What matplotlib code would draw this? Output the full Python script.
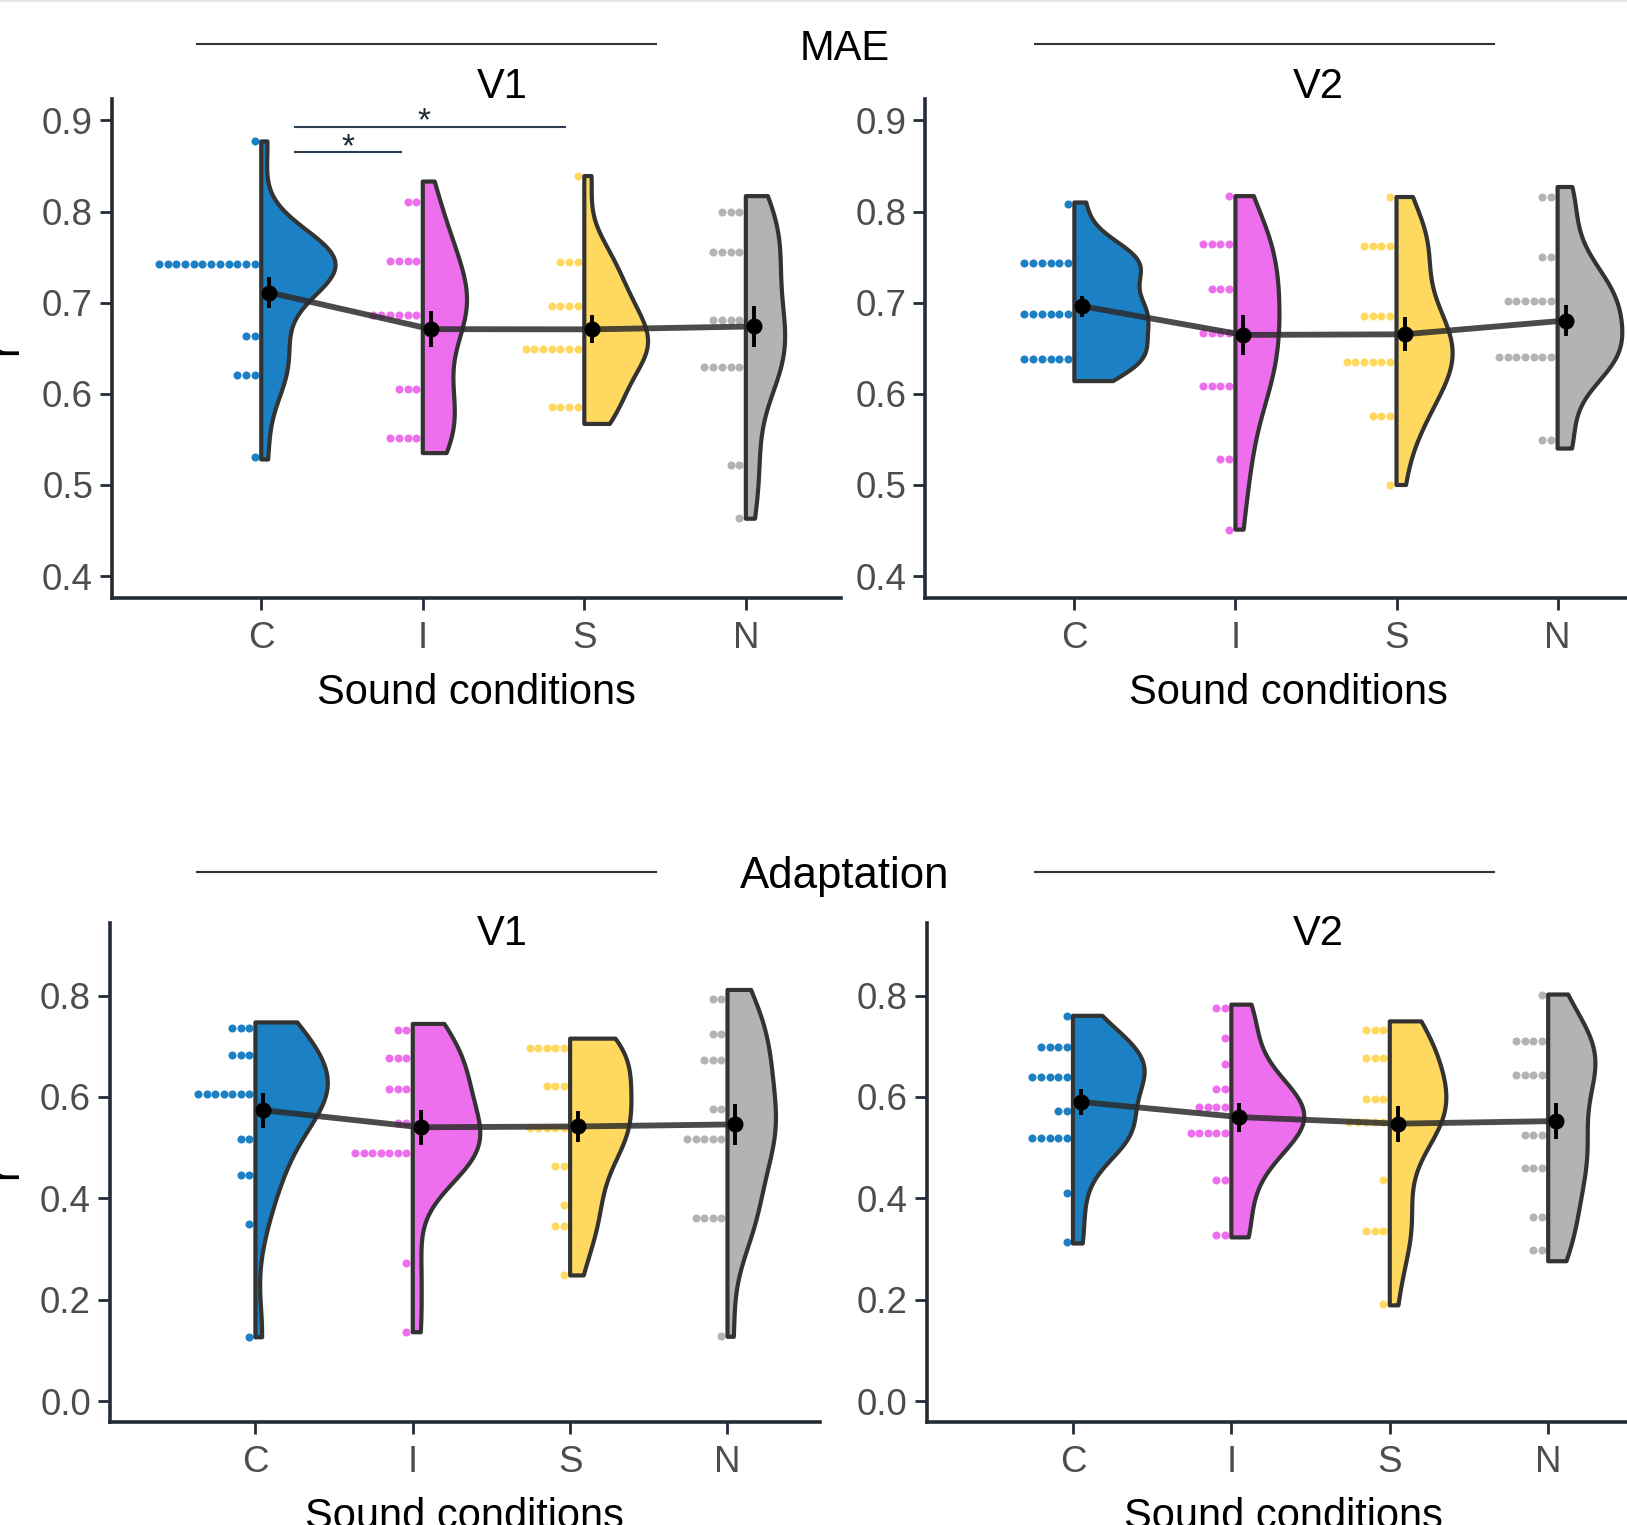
import numpy as np
import matplotlib
matplotlib.use("Agg")
import matplotlib.pyplot as plt
from matplotlib.patches import Polygon
from matplotlib.lines import Line2D

plt.rcParams['font.family'] = ['Liberation Sans', 'DejaVu Sans']

W, H = 1627, 1525

conditions = ['C', 'I', 'S', 'N']
colors = ['#1B80C4', '#EE6FEE', '#FFD95F', '#B3B3B3']

# ---- data: binned dot values and counts per condition (n = 19 each) ----
MAE_V1_vals = {'C': [0.877, 0.743, 0.663, 0.621, 0.531],
               'I': [0.810, 0.746, 0.687, 0.605, 0.552],
               'S': [0.839, 0.745, 0.696, 0.649, 0.586],
               'N': [0.800, 0.756, 0.681, 0.630, 0.522, 0.464]}
MAE_V1_counts = {'C': [1, 12, 2, 3, 1],
                 'I': [2, 4, 6, 3, 4],
                 'S': [1, 3, 4, 7, 4],
                 'N': [3, 4, 4, 5, 2, 1]}
MAE_V1_range = {'C': (0.528, 0.877), 'I': (0.535, 0.833),
                'S': (0.567, 0.839), 'N': (0.463, 0.817)}

MAE_V2_vals = {'C': [0.808, 0.744, 0.688, 0.638],
               'I': [0.817, 0.764, 0.715, 0.667, 0.609, 0.528, 0.451],
               'S': [0.816, 0.762, 0.685, 0.635, 0.576, 0.500],
               'N': [0.816, 0.750, 0.702, 0.641, 0.549]}
MAE_V2_counts = {'C': [1, 6, 6, 6],
                 'I': [1, 4, 3, 4, 4, 2, 1],
                 'S': [1, 4, 4, 6, 3, 1],
                 'N': [2, 2, 6, 7, 2]}
MAE_V2_range = {'C': (0.614, 0.810), 'I': (0.451, 0.817),
                'S': (0.500, 0.816), 'N': (0.540, 0.827)}

ADA_V1_vals = {'C': [0.736, 0.683, 0.606, 0.518, 0.446, 0.349, 0.127],
               'I': [0.732, 0.676, 0.615, 0.548, 0.489, 0.272, 0.136],
               'S': [0.696, 0.622, 0.539, 0.463, 0.387, 0.346, 0.248],
               'N': [0.794, 0.725, 0.672, 0.576, 0.518, 0.362, 0.128]}
ADA_V1_counts = {'C': [3, 3, 7, 2, 2, 1, 1],
                 'I': [2, 3, 3, 2, 7, 1, 1],
                 'S': [5, 3, 5, 2, 1, 2, 1],
                 'N': [2, 2, 3, 2, 5, 4, 1]}
ADA_V1_range = {'C': (0.126, 0.747), 'I': (0.136, 0.744),
                'S': (0.248, 0.715), 'N': (0.127, 0.811)}

ADA_V2_vals = {'C': [0.760, 0.698, 0.640, 0.572, 0.519, 0.410, 0.313],
               'I': [0.775, 0.716, 0.664, 0.615, 0.580, 0.528, 0.436, 0.327],
               'S': [0.732, 0.676, 0.595, 0.551, 0.436, 0.336, 0.191],
               'N': [0.802, 0.710, 0.644, 0.524, 0.460, 0.364, 0.299]}
ADA_V2_counts = {'C': [1, 4, 5, 2, 5, 1, 1],
                 'I': [2, 1, 1, 2, 4, 5, 2, 2],
                 'S': [3, 3, 3, 5, 1, 3, 1],
                 'N': [1, 4, 4, 3, 3, 2, 2]}
ADA_V2_range = {'C': (0.311, 0.760), 'I': (0.323, 0.782),
                'S': (0.189, 0.749), 'N': (0.276, 0.802)}

MAE_yticks = [0.4, 0.5, 0.6, 0.7, 0.8, 0.9]
ADA_yticks = [0.0, 0.2, 0.4, 0.6, 0.8]

# ---- layout ----
spine_col = '#222b36'
outline_col = '#333333'


def px_rect(l, t, r, b):
    return [l / W, 1 - b / H, (r - l) / W, (b - t) / H]


def kde(raw, grid):
    n = len(raw)
    sd = np.std(raw, ddof=1)
    bw = 0.9 * sd * n ** -0.2
    z = (grid[:, None] - raw[None, :]) / bw
    return np.exp(-0.5 * z ** 2).sum(1) / (n * bw * np.sqrt(2 * np.pi))


fig = plt.figure(figsize=(W / 100, H / 100), dpi=100)

panels = [
    (px_rect(112, 98.6, 840.5, 598), (0.376, 0.924), MAE_yticks, MAE_V1_vals, MAE_V1_counts, MAE_V1_range, True),
    (px_rect(925.5, 98.6, 1652, 598), (0.376, 0.924), MAE_yticks, MAE_V2_vals, MAE_V2_counts, MAE_V2_range, False),
    (px_rect(110, 922.5, 819.7, 1422), (-0.041, 0.944), ADA_yticks, ADA_V1_vals, ADA_V1_counts, ADA_V1_range, False),
    (px_rect(926.6, 922.5, 1641, 1422), (-0.041, 0.944), ADA_yticks, ADA_V2_vals, ADA_V2_counts, ADA_V2_range, False),
]

max_w = 0.46
dot_off = 0.04
dot_step = 0.054
nudge = 0.05

for rect, ylim, yticks, vals, counts, ranges, sig in panels:
    ax = fig.add_axes(rect)
    ax.set_xlim(0.076, 4.586)
    ax.set_ylim(*ylim)
    dens = {}
    grids = {}
    means, ses = [], []
    for i, c in enumerate(conditions):
        v = np.array(vals[c])
        k = np.array(counts[c])
        raw = np.repeat(v, k)
        lo, hi = ranges[c]
        g = np.linspace(lo, hi, 300)
        grids[c] = g
        dens[c] = kde(raw, g)
        means.append(raw.mean())
        ses.append(raw.std(ddof=1) / np.sqrt(len(raw)))
        for val, cnt in zip(v, k):
            xs = (i + 1) - dot_off - np.arange(cnt) * dot_step
            ax.plot(xs, [val] * cnt, 'o', ms=5.8, color=colors[i], mec='none', zorder=2)
    dmax = max(d.max() for d in dens.values())
    for i, c in enumerate(conditions):
        x0 = i + 1
        g = grids[c]
        w = dens[c] / dmax * max_w
        xs = np.concatenate([[x0], x0 + w, [x0]])
        ys = np.concatenate([[g[0]], g, [g[-1]]])
        poly = Polygon(np.column_stack([xs, ys]), closed=True, fc=colors[i], ec=outline_col,
                       lw=3.0, joinstyle='round', zorder=3)
        ax.add_patch(poly)
    mx = np.arange(1, 5) + nudge
    ax.plot(mx, means, color='#2b2b2b', alpha=0.85, lw=4.2, zorder=4, solid_capstyle='butt')
    ax.errorbar(mx, means, yerr=ses, fmt='o', color='black', ms=10.5, elinewidth=2.8,
                capsize=0, zorder=5)
    if sig:
        ax.plot([1.21, 1.867], [0.865, 0.865], color='#2c3e50', lw=1.5, zorder=3)
        ax.text(1.54, 0.861, '*', ha='center', va='baseline', fontsize=24, color='#1c2833')
        ax.plot([1.21, 2.88], [0.893, 0.893], color='#2c3e50', lw=1.5, zorder=3)
        ax.text(2.008, 0.889, '*', ha='center', va='baseline', fontsize=24, color='#1c2833')

    ax.set_xticks(range(1, 5))
    ax.set_xticklabels(conditions)
    ax.set_yticks(yticks)
    ax.set_yticklabels([f'{t:.1f}' for t in yticks])
    for s in ['top', 'right']:
        ax.spines[s].set_visible(False)
    for s in ['left', 'bottom']:
        ax.spines[s].set_color(spine_col)
        ax.spines[s].set_linewidth(2.6)
    ax.tick_params(axis='both', labelsize=26.5, labelcolor='#4D4D4D', color=spine_col,
                   length=8.6, width=2.0)
    ax.tick_params(axis='x', pad=8)
    ax.tick_params(axis='y', pad=5)
    ax.set_xlabel('Sound conditions', fontsize=30, color='black', labelpad=12)
    ax.patch.set_alpha(0)

# ---- figure-level texts ----
def ftext(x, y, s, **kw):
    fig.text(x / W, 1 - y / H, s, **kw)


def fline(x0, x1, y, **kw):
    fig.add_artist(Line2D([x0 / W, x1 / W], [1 - y / H, 1 - y / H], **kw))


ftext(845, 60, 'MAE', ha='center', va='baseline', fontsize=30)
fline(197, 656, 44.3, color='#333333', lw=1.5)
fline(1035, 1494, 44.3, color='#333333', lw=1.5)
ftext(502, 98, 'V1', ha='center', va='baseline', fontsize=30)
ftext(1318, 98, 'V2', ha='center', va='baseline', fontsize=30)

ftext(845, 888, 'Adaptation', ha='center', va='baseline', fontsize=31.5)
fline(197, 656, 872.3, color='#333333', lw=1.5)
fline(1035, 1494, 872.3, color='#333333', lw=1.5)
ftext(502, 945, 'V1', ha='center', va='baseline', fontsize=30)
ftext(1318, 945, 'V2', ha='center', va='baseline', fontsize=30)

ftext(26, 348, 'r', ha='right', va='center', rotation=90, fontsize=30)
ftext(26, 1172, 'r', ha='right', va='center', rotation=90, fontsize=30)

fline(0, W, 1, color='#e6e6e6', lw=1.5)

fig.savefig('out.png', dpi=100)
